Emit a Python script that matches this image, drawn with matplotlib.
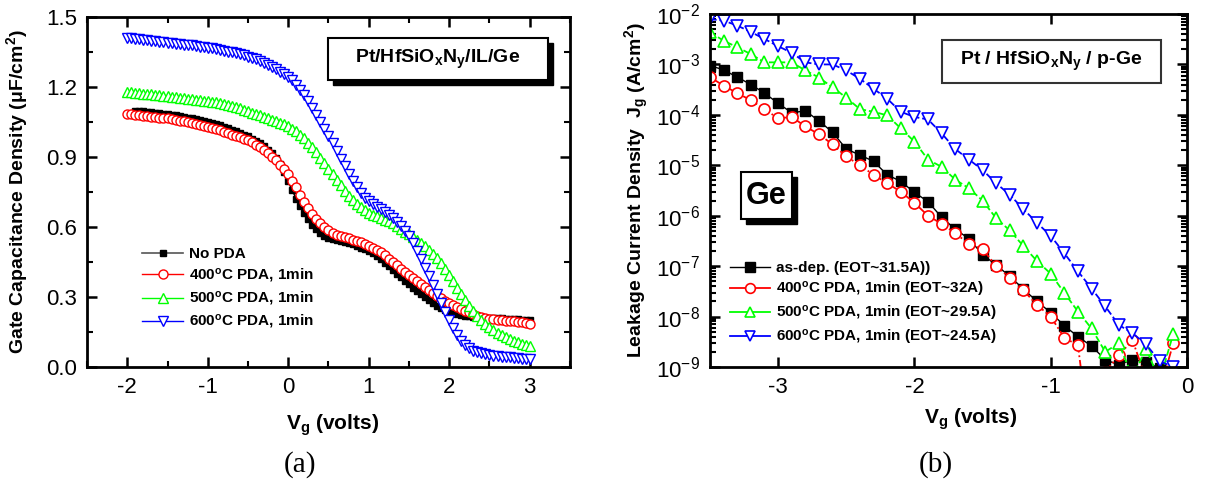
import numpy as np
import matplotlib
matplotlib.use("Agg")
import matplotlib.pyplot as plt
from matplotlib.patches import Rectangle
from matplotlib.ticker import MultipleLocator, LogLocator, NullFormatter

plt.rcParams['font.family'] = ['Liberation Sans', 'DejaVu Sans']
plt.rcParams['mathtext.fontset'] = 'custom'
plt.rcParams['mathtext.rm'] = 'Liberation Sans'
plt.rcParams['mathtext.bf'] = 'Liberation Sans:bold'
plt.rcParams['mathtext.it'] = 'Liberation Sans:italic'
plt.rcParams['axes.unicode_minus'] = False
plt.rcParams['xtick.direction'] = 'in'
plt.rcParams['ytick.direction'] = 'in'
plt.rcParams['xtick.top'] = True
plt.rcParams['ytick.right'] = True

# ---- C-V data, 50 mV sweep from -2 V to 3 V ----
vg_cv = np.linspace(-2.0, 3.0, 101)
vg_cv_nopda = vg_cv[2:]   # the as-deposited sweep starts at -1.9 V

cap_nopda = [
    1.098, 1.096, 1.095, 1.093, 1.091, 1.089, 1.087, 1.085, 1.083, 1.081,
    1.078, 1.075, 1.072, 1.069, 1.066, 1.062, 1.058, 1.054, 1.050,
    1.045, 1.040, 1.035, 1.029, 1.023, 1.017, 1.010, 1.003, 0.996, 0.988,
    0.979, 0.969, 0.958, 0.946, 0.932, 0.915, 0.895, 0.870, 0.835,
    0.795, 0.757, 0.722, 0.690, 0.660, 0.633, 0.610, 0.590, 0.574, 0.562,
    0.554, 0.548, 0.543, 0.539, 0.535, 0.530, 0.525, 0.519, 0.512, 0.505, 0.497,
    0.487, 0.475, 0.461, 0.446, 0.431, 0.415, 0.400, 0.385, 0.370, 0.355,
    0.340, 0.326, 0.312, 0.298, 0.285, 0.273, 0.262, 0.252, 0.244, 0.237,
    0.231, 0.226, 0.222, 0.219, 0.217, 0.215, 0.214, 0.213, 0.212, 0.211,
    0.210, 0.209, 0.208, 0.207, 0.206, 0.205, 0.204, 0.203, 0.202, 0.201]

cap_400 = [
    1.085, 1.083, 1.081, 1.079, 1.077, 1.075, 1.073, 1.071, 1.069, 1.067,
    1.065, 1.062, 1.059, 1.056, 1.053, 1.050, 1.046, 1.042, 1.038, 1.034, 1.030,
    1.025, 1.020, 1.014, 1.008, 1.002, 0.996, 0.990, 0.984, 0.978, 0.972,
    0.963, 0.953, 0.942, 0.930, 0.917, 0.902, 0.886, 0.867, 0.847,
    0.825, 0.798, 0.770, 0.738, 0.706, 0.680, 0.656, 0.635, 0.616, 0.600,
    0.586, 0.575, 0.567, 0.561, 0.556, 0.551, 0.546, 0.541, 0.535, 0.528, 0.520,
    0.512, 0.502, 0.491, 0.478, 0.464, 0.450, 0.436, 0.422, 0.409, 0.396,
    0.383, 0.370, 0.357, 0.344, 0.331, 0.318, 0.305, 0.294, 0.284, 0.275,
    0.267, 0.258, 0.250, 0.242, 0.234, 0.227, 0.220, 0.214, 0.210, 0.207,
    0.205, 0.203, 0.201, 0.199, 0.197, 0.195, 0.193, 0.191, 0.188, 0.185]

cap_500 = [
    1.180, 1.178, 1.176, 1.174, 1.172, 1.170, 1.168, 1.166, 1.164, 1.162,
    1.160, 1.158, 1.156, 1.154, 1.152, 1.150, 1.148, 1.146, 1.144, 1.142, 1.140,
    1.137, 1.134, 1.131, 1.128, 1.124, 1.120, 1.115, 1.110, 1.103, 1.096,
    1.090, 1.084, 1.078, 1.072, 1.066, 1.060, 1.054, 1.047, 1.040,
    1.032, 1.022, 1.010, 0.996, 0.980, 0.962, 0.942, 0.920, 0.897, 0.873,
    0.850, 0.826, 0.802, 0.778, 0.755, 0.733, 0.714, 0.698, 0.684, 0.672, 0.662,
    0.653, 0.645, 0.638, 0.631, 0.624, 0.615, 0.604, 0.592, 0.580, 0.568,
    0.556, 0.543, 0.530, 0.517, 0.503, 0.486, 0.466, 0.446, 0.422, 0.395,
    0.368, 0.340, 0.312, 0.285, 0.260, 0.238, 0.218, 0.200, 0.184, 0.170,
    0.157, 0.146, 0.136, 0.127, 0.119, 0.112, 0.106, 0.100, 0.095, 0.090]

cap_600 = [
    1.410, 1.408, 1.406, 1.404, 1.402, 1.400, 1.398, 1.396, 1.394, 1.392,
    1.390, 1.388, 1.386, 1.384, 1.382, 1.380, 1.378, 1.375, 1.373, 1.370, 1.368,
    1.365, 1.362, 1.359, 1.356, 1.352, 1.348, 1.344, 1.340, 1.335, 1.330,
    1.324, 1.318, 1.311, 1.303, 1.294, 1.285, 1.276, 1.266, 1.255,
    1.244, 1.228, 1.210, 1.188, 1.164, 1.138, 1.110, 1.080, 1.050, 1.020,
    0.990, 0.958, 0.925, 0.892, 0.860, 0.828, 0.798, 0.770, 0.746, 0.726, 0.710,
    0.697, 0.686, 0.675, 0.664, 0.652, 0.638, 0.622, 0.604, 0.584, 0.560,
    0.530, 0.497, 0.462, 0.425, 0.388, 0.350, 0.312, 0.274, 0.236, 0.200,
    0.166, 0.136, 0.112, 0.094, 0.080, 0.070, 0.063, 0.058, 0.054, 0.051,
    0.048, 0.046, 0.044, 0.042, 0.041, 0.039, 0.037, 0.036, 0.035, 0.034]

# ---- J-V data, 100 mV steps from -3.5 V to -0.1 V ----
vg_iv = np.linspace(-3.5, -0.1, 35)
vg_iv_asdep = vg_iv[:34]

jg_asdep = [
    9.5e-4, 7.8e-4, 5.6e-4, 4.0e-4, 2.7e-4, 1.7e-4, 1.1e-4, 1.2e-4, 7.6e-5, 4.5e-5,
    2.1e-5, 1.6e-5, 1.2e-5, 6.5e-6, 4.8e-6, 2.9e-6, 1.9e-6, 9.3e-7, 5.4e-7, 3.5e-7,
    1.7e-7, 1.05e-7, 6.3e-8, 3.5e-8, 2.0e-8, 1.2e-8, 6.6e-9, 4.0e-9, 2.6e-9, 1.4e-9,
    1.1e-9, 1.4e-9, 1.25e-9, 9.5e-10]

jg_400 = [
    5.6e-4, 3.8e-4, 2.7e-4, 1.95e-4, 1.3e-4, 8.5e-5, 9.1e-5, 5.9e-5, 4.1e-5, 2.6e-5,
    1.5e-5, 1.0e-5, 6.5e-6, 4.4e-6, 3.0e-6, 1.8e-6, 1.0e-6, 6.9e-7, 4.5e-7, 2.75e-7,
    2.2e-7, 1.0e-7, 5.9e-8, 3.3e-8, 1.7e-8, 1.0e-8, 3.8e-9, 2.7e-9, 2.0e-11, 7.9e-10,
    1.7e-9, 3.4e-9, 5.9e-10, 3.3e-10, 3.0e-9]

jg_500 = [
    4.4e-3, 2.95e-3, 2.2e-3, 1.6e-3, 1.1e-3, 1.1e-3, 1.1e-3, 7.6e-4, 5.5e-4, 3.5e-4,
    2.2e-4, 1.3e-4, 1.15e-4, 9.8e-5, 5.4e-5, 2.95e-5, 1.3e-5, 9.3e-6, 5.2e-6, 3.5e-6,
    2.0e-6, 8.9e-7, 5.1e-7, 2.5e-7, 1.26e-7, 7.1e-8, 2.95e-8, 1.26e-8, 5.8e-9, 2.0e-9,
    2.95e-9, 6.3e-10, 2.3e-9, 5.4e-10, 4.6e-9]

jg_600 = [
    7.9e-3, 7.4e-3, 5.9e-3, 4.4e-3, 3.2e-3, 2.3e-3, 1.7e-3, 1.1e-3, 1.0e-3, 1.0e-3,
    7.6e-4, 5.2e-4, 3.3e-4, 2.1e-4, 1.15e-4, 9.1e-5, 8.1e-5, 4.3e-5, 2.1e-5, 1.3e-5,
    8.1e-6, 4.4e-6, 2.6e-6, 1.35e-6, 7.2e-7, 4.0e-7, 1.8e-7, 7.9e-8, 3.6e-8, 1.6e-8,
    6.8e-9, 4.7e-9, 2.8e-9, 1.3e-9, 1.0e-9]

cv_labels = ['No PDA', r'400$^\mathbf{o}$C PDA, 1min',
             r'500$^\mathbf{o}$C PDA, 1min', r'600$^\mathbf{o}$C PDA, 1min']
iv_labels = ['as-dep. (EOT~31.5A))', r'400$^\mathbf{o}$C PDA, 1min (EOT~32A)',
             r'500$^\mathbf{o}$C PDA, 1min (EOT~29.5A)',
             r'600$^\mathbf{o}$C PDA, 1min (EOT~24.5A)']

RED, GREEN, BLUE = '#ff0000', '#00ff00', '#0000ff'

fig = plt.figure(figsize=(12.07, 4.95), dpi=100)
ax1 = fig.add_axes([0.0721, 0.2586, 0.4001, 0.7071])
ax2 = fig.add_axes([0.5882, 0.2586, 0.3952, 0.7131])

for ax in (ax1, ax2):
    for sp in ax.spines.values():
        sp.set_linewidth(2.0)
    ax.tick_params(which='major', length=7, width=1.8, labelsize=16, pad=7)
    ax.tick_params(which='minor', length=4, width=1.5)


def boxed_text(ax, x0, y0, x1, y1, text, size, shadow=True, edge='k', lw=1.5):
    # white label box, with an offset black shadow behind it
    if shadow:
        dx, dy = 5.0 / ax.bbox.width, 5.0 / ax.bbox.height
        ax.add_patch(Rectangle((x0 + dx, y0 - dy), x1 - x0, y1 - y0,
                               transform=ax.transAxes, facecolor='k',
                               edgecolor='k', zorder=5))
    ax.add_patch(Rectangle((x0, y0), x1 - x0, y1 - y0, transform=ax.transAxes,
                           facecolor='white', edgecolor=edge, lw=lw, zorder=6))
    ax.text((x0 + x1) / 2, (y0 + y1) / 2, text, transform=ax.transAxes,
            ha='center', va='center', fontsize=size, fontweight='bold', zorder=7)


# (a) capacitance-voltage
ax1.plot(vg_cv_nopda, cap_nopda, '-', color='k', lw=1.2, marker='s', ms=4.5,
         mfc='k', mec='k', label=cv_labels[0])
ax1.plot(vg_cv, cap_400, '-', color=RED, lw=1.0, marker='o', ms=6.5,
         mfc='white', mec=RED, mew=1.0, label=cv_labels[1])
ax1.plot(vg_cv, cap_500, '-', color=GREEN, lw=1.0, marker='^', ms=7,
         mfc='white', mec=GREEN, mew=1.0, label=cv_labels[2])
ax1.plot(vg_cv, cap_600, '-', color=BLUE, lw=1.0, marker='v', ms=7,
         mfc='white', mec=BLUE, mew=1.0, label=cv_labels[3])

ax1.set_xlim(-2.5, 3.5)
ax1.set_ylim(0.0, 1.5)
ax1.xaxis.set_major_locator(MultipleLocator(1))
ax1.xaxis.set_minor_locator(MultipleLocator(0.5))
ax1.yaxis.set_major_locator(MultipleLocator(0.3))
ax1.yaxis.set_minor_locator(MultipleLocator(0.15))
ax1.yaxis.set_major_formatter(plt.FormatStrFormatter('%.1f'))
ax1.set_xlabel(r'$\mathbf{V_g}$ (volts)', fontsize=15, fontweight='bold')
ax1.set_ylabel(r'Gate Capacitance Density ($\mathbf{\mu}$F/cm$^\mathbf{2}$)',
               fontsize=14, fontweight='bold')
ax1.xaxis.set_label_coords(0.509, -0.129)
ax1.yaxis.set_label_coords(-0.118, 0.50)

leg1 = ax1.legend(loc='upper left', bbox_to_anchor=(0.114, 0.342), frameon=False,
                  fontsize=11, handlelength=2.7, handletextpad=0.35,
                  labelspacing=0.35, borderpad=0, borderaxespad=0, numpoints=1)
for t in leg1.get_texts():
    t.set_fontweight('bold')
leg1.get_lines()[0].set_color('#555555')

boxed_text(ax1, 0.499, 0.820, 0.954, 0.940, r'Pt/HfSiO$_\mathbf{x}$N$_\mathbf{y}$/IL/Ge', 14)

# (b) leakage current
ax2.semilogy(vg_iv_asdep, jg_asdep, '-', color='k', lw=1.0, marker='s', ms=7,
             mfc='k', mec='k', label=iv_labels[0])
ax2.semilogy(vg_iv, jg_400, '-.', color=RED, lw=1.3, marker='o', ms=8,
             mfc='white', mec=RED, mew=1.2, label=iv_labels[1])
ax2.semilogy(vg_iv, jg_500, '--', color=GREEN, lw=1.3, marker='^', ms=9,
             mfc='white', mec=GREEN, mew=1.2, label=iv_labels[2])
ax2.semilogy(vg_iv, jg_600, '--', color=BLUE, lw=1.3, marker='v', ms=9,
             mfc='white', mec=BLUE, mew=1.2, label=iv_labels[3])

ax2.set_xlim(-3.5, 0.0)
ax2.set_ylim(1e-9, 1e-2)
ax2.xaxis.set_major_locator(MultipleLocator(1))
ax2.yaxis.set_major_locator(LogLocator(base=10, numticks=20))
ax2.yaxis.set_minor_locator(LogLocator(base=10, subs=np.arange(2, 10), numticks=20))
ax2.yaxis.set_minor_formatter(NullFormatter())
ax2.set_xlabel(r'$\mathbf{V_g}$ (volts)', fontsize=15, fontweight='bold')
ax2.set_ylabel(r'Leakage Current Density  J$_\mathbf{g}$ (A/cm$^\mathbf{2}$)',
               fontsize=14, fontweight='bold')
ax2.xaxis.set_label_coords(0.547, -0.113)
ax2.yaxis.set_label_coords(-0.124, 0.50)

leg2 = ax2.legend(loc='upper left', bbox_to_anchor=(0.042, 0.300), frameon=False,
                  fontsize=11, handlelength=2.6, handletextpad=0.4,
                  labelspacing=0.33, borderpad=0, borderaxespad=0, numpoints=1)
for t in leg2.get_texts():
    t.set_fontweight('bold')
for ln in leg2.get_lines():
    ln.set_linestyle('-')
    ln.set_markersize(7)

boxed_text(ax2, 0.486, 0.805, 0.946, 0.926,
           r'Pt / HfSiO$_\mathbf{x}$N$_\mathbf{y}$ / p-Ge', 14,
           shadow=False, edge='#333333', lw=1.5)
boxed_text(ax2, 0.066, 0.419, 0.171, 0.552, 'Ge', 22)

fig.text(300 / 1207, 1 - 465 / 495, '(a)', ha='center', va='center',
         fontsize=21, family='Liberation Serif')
fig.text(936 / 1207, 1 - 465 / 495, '(b)', ha='center', va='center',
         fontsize=21, family='Liberation Serif')

fig.savefig('out.png', dpi=100)
